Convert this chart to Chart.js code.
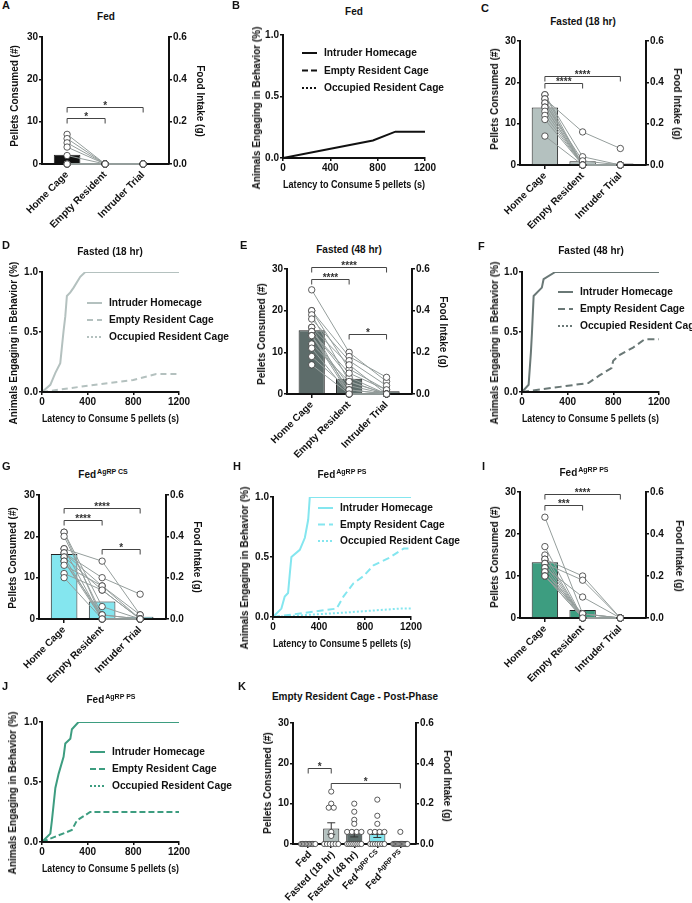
<!DOCTYPE html>
<html lang="en">
<head>
<meta charset="utf-8">
<title>Resident intruder feeding</title>
<script src="https://cdn.jsdelivr.net/npm/chart.js@4.4.1/dist/chart.umd.min.js"></script>
<style>
  html, body { margin: 0; padding: 0; background: #fff; }
  #fig { position: relative; width: 692px; height: 903px; overflow: hidden;
         font-family: 'Liberation Sans', Arial, Helvetica, sans-serif; color: #111; }
  #fig canvas { position: absolute; }
  .tag { position: absolute; font-size: 11px; font-weight: bold; line-height: 11px; }
  .head { position: absolute; font-size: 10px; font-weight: bold; line-height: 10px;
          white-space: nowrap; transform: translate(-50%, -50%); }
  .head sup { font-size: 7px; line-height: 0; vertical-align: 4px; margin-left: 1px; }
  .ytitle, .rtitle { position: absolute; font-size: 10px; font-weight: bold; line-height: 12px; white-space: nowrap; }
  .ytitle { transform: translate(-50%, -50%) rotate(-90deg); }
  .rtitle { transform: translate(-50%, -50%) rotate(90deg); }
</style>
</head>
<body>
<div id="fig"></div>
<script>
// pellets eaten per mouse; same index = same mouse in the three trials
const trialCats = ['Home Cage', 'Empty Resident', 'Intruder Trial'];

const fedHome     = [7, 6, 5, 4, 2, 0, 0, 0, 0, 0, 0];
const fedEmpty    = [0, 0, 0, 0, 0, 0, 0, 0, 0, 0, 0];
const fedIntruder = [0, 0, 0, 0, 0, 0, 0, 0, 0, 0, 0];

const f18Home     = [17, 17, 16, 16, 15, 15, 14, 14, 13, 12, 11, 7];
const f18Empty    = [2, 0, 8, 0, 0, 1, 0, 0, 0, 0, 0, 0];
const f18Intruder = [0, 0, 4, 0, 0, 0, 0, 0, 0, 0, 0, 0];

const f48Home     = [25, 20, 20, 19, 18, 16, 16, 15, 15, 14, 14, 14, 12, 11, 9, 7];
const f48Empty    = [10, 6, 9, 3, 8, 0, 7, 4, 5, 2, 0, 1, 3, 0, 1, 0];
const f48Intruder = [3, 1, 4, 0, 2, 0, 0, 0, 1, 0, 0, 0, 0, 0, 0, 0];

const csHome      = [21, 21, 20, 17, 17, 16, 16, 15, 15, 14, 14, 13, 11, 10];
const csEmpty     = [0, 3, 1, 14, 0, 8, 10, 0, 7, 1, 0, 8, 7, 0];
const csIntruder  = [0, 0, 0, 1, 0, 1, 6, 0, 0, 0, 0, 0, 0, 0];

const psHome      = [24, 17, 15, 14, 14, 13, 13, 12, 12, 11, 11, 10, 10, 10];
const psEmpty     = [1, 0, 0, 10, 0, 9, 0, 5, 0, 1, 0, 0, 1, 0];
const psIntruder  = [0, 0, 0, 0, 0, 0, 0, 0, 0, 0, 0, 0, 0, 0];

// significance brackets: [from, to, height in pellets, label]
const fedStars  = [[0, 1, 10.9, '*'], [0, 2, 13.5, '*']];
const f18Stars  = [[0, 1, 19.8, '****'], [0, 2, 21.6, '****']];
const f48Stars  = [[0, 1, 27.7, '****'], [0, 2, 30.5, '****'], [1, 2, 14.5, '*']];
const csStars   = [[0, 1, 24.0, '****'], [0, 2, 26.8, '****'], [1, 2, 16.9, '*']];
const psStars   = [[0, 1, 26.9, '***'], [0, 2, 29.5, '****']];

// latency curves: [seconds, fraction of animals]
const curveNames = ['Intruder Homecage', 'Empty Resident Cage', 'Occupied Resident Cage'];

const fedHomecage = [[0, 0], [380, 0.071], [760, 0.143], [950, 0.214], [1200, 0.214]];
const fedEmptyRes = [[0, 0], [1200, 0]];
const fedOccupied = [[0, 0], [1200, 0]];

const f18Homecage = [[0, 0], [73, 0.06], [117, 0.16], [160, 0.24], [175, 0.38], [189, 0.51], [204, 0.63],
                     [218, 0.8], [248, 0.83], [277, 0.87], [335, 0.96], [379, 1], [1200, 1]];
const f18EmptyRes = [[0, 0], [500, 0.065], [800, 0.1], [1000, 0.15], [1200, 0.15]];
const f18Occupied = [[0, 0], [1200, 0]];

const f48Homecage = [[0, 0], [58, 0.06], [78, 0.33], [87, 0.49], [102, 0.8], [174, 0.87], [189, 0.94],
                     [291, 1], [1200, 1]];
const f48EmptyRes = [[0, 0], [581, 0.075], [682, 0.14], [784, 0.2], [799, 0.26], [857, 0.31], [973, 0.37],
                     [1075, 0.44], [1200, 0.44]];
const f48Occupied = [[0, 0], [1200, 0]];

const hHomecage = [[0, 0], [73, 0.07], [102, 0.17], [131, 0.2], [146, 0.36], [160, 0.5], [233, 0.56],
                   [277, 0.66], [306, 0.81], [320, 1], [1200, 1]];
const hEmptyRes = [[0, 0], [553, 0.07], [612, 0.17], [699, 0.28], [786, 0.34], [874, 0.43], [1005, 0.49],
                   [1136, 0.57], [1200, 0.57]];
const hOccupied = [[0, 0], [600, 0.035], [1100, 0.07], [1200, 0.07]];

const jHomecage = [[0, 0], [73, 0.07], [87, 0.18], [117, 0.45], [146, 0.57], [189, 0.71], [204, 0.82],
                   [248, 0.86], [262, 0.94], [320, 1], [1200, 1]];
const jEmptyRes = [[0, 0], [262, 0.1], [306, 0.18], [422, 0.25], [1200, 0.25]];
const jOccupied = [[0, 0], [1200, 0]];

// panel K: empty resident cage, post phase
const postCats = ['Fed', 'Fasted (18 hr)', 'Fasted (48 hr)', 'Fed', 'Fed'];
const postSups = ['', '', '', 'AgRP CS', 'AgRP PS'];
const postFed  = [0, 0, 0, 0, 0, 0, 0, 0, 0, 0, 0];
const postF18  = [13, 10, 9, 9, 3, 2, 0, 0, 0, 0, 0, 0];
const postF48  = [10, 8, 6, 5, 3, 3, 3, 3, 0, 0, 0, 0, 0, 0, 0, 0];
const postCs   = [11, 7, 5, 3, 3, 3, 3, 0, 0, 0, 0, 0, 0, 0];
const postPs   = [3, 0, 0, 0, 0, 0, 0, 0, 0, 0, 0, 0, 0, 0];
const postStars = [[0, 1, 18.8, '*'], [1, 4, 15.2, '*']];

const colFed = '#111111', colF18 = '#b4c1bf', colF48 = '#5d6c6a', colCs = '#84e6ef', colPs = '#3d9d80';
const FONT = "'Liberation Sans', Arial, Helvetica, sans-serif";

Chart.defaults.font.family = FONT;
Chart.defaults.font.size = 10;
Chart.defaults.font.weight = 'bold';
Chart.defaults.color = '#111';

const fig = document.getElementById('fig');

const mean = g => g.reduce((a, b) => a + b, 0) / g.length;
const sem = g => {
    const m = mean(g);
    const v = g.reduce((a, b) => a + (b - m) ** 2, 0) / (g.length - 1);
    return Math.sqrt(v / g.length);
};

// spread equal values sideways like a scatter dot plot
function spread(g) {
    const count = {}, used = {};
    g.forEach(v => { count[v] = (count[v] || 0) + 1; });
    return g.map(v => {
        const c = count[v];
        const k = used[v] = (used[v] || 0) + 1;
        const step = c > 1 ? Math.min(0.22, 0.62 / (c - 1)) : 0;
        return (k - 1 - (c - 1) / 2) * step;
    });
}

function addText(cls, html, x, y) {
    const d = document.createElement('div');
    d.className = cls;
    d.innerHTML = html;
    d.style.left = x + 'px';
    d.style.top = y + 'px';
    fig.appendChild(d);
}

function addCanvas(box) {
    const c = document.createElement('canvas');
    c.width = box[2];
    c.height = box[3];
    c.style.left = box[0] + 'px';
    c.style.top = box[1] + 'px';
    c.style.width = box[2] + 'px';
    c.style.height = box[3] + 'px';
    fig.appendChild(c);
    return c;
}

// canvas box + axis sizes so the plot area lands on `area` = [left, top, right, bottom]
function frame(area, yTitleX, rTitleX, xTitleY) {
    const [L, T, R, B] = area;
    const left = yTitleX - 8, top = T - 12;
    const right = rTitleX ? rTitleX + 8 : Math.min(R + 75, 692);
    const bottom = xTitleY ? xTitleY + 8 : B + 92;
    return {
        box: [left, top, right - left, bottom - top],
        padding: { left: 2, top: 12, right: rTitleX ? 2 : right - R, bottom: 2 },
        leftW: L - left - 2,
        rightW: rTitleX ? rTitleX + 6 - R : 0,
        bottomH: bottom - 2 - B
    };
}

function axisTitle(text) {
    return { display: true, text, padding: 0, color: '#111', font: { size: 10, weight: 'bold' } };
}
function grid(len) {
    return { drawOnChartArea: false, drawTicks: true, tickLength: len, color: '#111', lineWidth: 1.5, offset: false };
}
function border(z) {
    return { display: true, color: '#111', width: 2, z: z };
}

// brackets, stars and error bars
const marks = {
    id: 'marks',
    afterDatasetDraw(chart, args, opts) {
        if (!opts.errors || args.meta.type !== 'bar') return;
        const { ctx } = chart;
        const xs = chart.scales.x, ys = chart.scales.y;
        ctx.save();
        ctx.strokeStyle = '#333';
        ctx.lineWidth = 1;
        opts.errors.forEach(([i, m, e]) => {
            if (!e) return;
            const x = xs.getPixelForValue(i);
            const lo = ys.getPixelForValue(m - e), hi = ys.getPixelForValue(m + e);
            ctx.beginPath();
            ctx.moveTo(x, lo); ctx.lineTo(x, hi);
            ctx.moveTo(x - 4, hi); ctx.lineTo(x + 4, hi);
            ctx.moveTo(x - 4, lo); ctx.lineTo(x + 4, lo);
            ctx.stroke();
        });
        ctx.restore();
    },
    afterDraw(chart, args, opts) {
        if (!opts.brackets) return;
        const { ctx } = chart;
        const xs = chart.scales.x, ys = chart.scales.y;
        ctx.save();
        opts.brackets.forEach(([a, b, level, label]) => {
            const x1 = xs.getPixelForValue(a), x2 = xs.getPixelForValue(b);
            const y = Math.round(ys.getPixelForValue(level)) + 0.5;
            ctx.strokeStyle = '#444';
            ctx.lineWidth = 1;
            ctx.beginPath();
            ctx.moveTo(x1, y + 5); ctx.lineTo(x1, y); ctx.lineTo(x2, y); ctx.lineTo(x2, y + 5);
            ctx.stroke();
            ctx.fillStyle = '#333';
            ctx.font = 'bold 10px ' + FONT;
            ctx.textAlign = 'center';
            ctx.textBaseline = 'alphabetic';
            ctx.fillText(label, (x1 + x2) / 2, y + 1.5);
        });
        ctx.restore();
    }
};

// rotated category labels with superscripts (panel K)
const catText = {
    id: 'catText',
    afterDraw(chart, args, opts) {
        if (!opts.labels) return;
        const { ctx } = chart;
        const xs = chart.scales.x, base = chart.chartArea.bottom;
        opts.labels.forEach((txt, i) => {
            const sup = opts.sups[i];
            const x = xs.getPixelForValue(i);
            ctx.save();
            ctx.translate(x + 2, base + 9);
            ctx.rotate(-Math.PI / 4);
            ctx.fillStyle = '#111';
            ctx.textBaseline = 'middle';
            ctx.textAlign = 'left';
            ctx.font = 'bold 10px ' + FONT;
            const w1 = ctx.measureText(txt).width;
            ctx.font = 'bold 7px ' + FONT;
            const w2 = sup ? ctx.measureText(sup).width + 1 : 0;
            ctx.font = 'bold 10px ' + FONT;
            ctx.fillText(txt, -(w1 + w2), 0);
            if (sup) {
                ctx.font = 'bold 7px ' + FONT;
                ctx.fillText(sup, -w2 + 1, -3.5);
            }
            ctx.restore();
        });
    }
};

// legend inside the plot with line samples
const lineKey = {
    id: 'lineKey',
    afterDraw(chart, args, o) {
        if (o.x === undefined) return;
        const { ctx, chartArea } = chart;
        chart.data.datasets.forEach((ds, i) => {
            const x = chartArea.left + o.x, y = chartArea.top + o.y + i * o.gap;
            ctx.save();
            ctx.strokeStyle = ds.borderColor;
            ctx.lineWidth = 2;
            ctx.setLineDash(ds.borderDash);
            ctx.beginPath();
            ctx.moveTo(x, y); ctx.lineTo(x + 15, y);
            ctx.stroke();
            ctx.setLineDash([]);
            ctx.fillStyle = '#111';
            ctx.font = 'bold 10.2px ' + FONT;
            ctx.textBaseline = 'middle';
            ctx.fillText(ds.label, x + 22, y + 0.5);
            ctx.restore();
        });
    }
};

Chart.register(marks, catText, lineKey);

function barPanel(p) {
    addText('tag', p.tag, p.tagAt[0], p.tagAt[1]);
    addText('head', p.title, p.titleAt[0], p.titleAt[1]);
    const f = frame(p.area, p.yTitleAt[0], p.rTitleAt[0], null);
    const n = p.groups.length;
    const means = p.groups.map(mean);
    const datasets = [];
    if (p.paired) {
        p.groups[0].forEach((_, k) => datasets.push({
            type: 'line',
            data: p.groups.map((g, i) => ({ x: i, y: g[k] })),
            borderColor: '#959e9c', borderWidth: 1, pointRadius: 0, order: 5, clip: false
        }));
    }
    const dots = [];
    p.groups.forEach((g, i) => {
        const off = p.paired ? g.map(() => 0) : spread(g);
        g.forEach((v, k) => dots.push({ x: i + off[k], y: v }));
    });
    datasets.push({
        type: 'line', data: dots, showLine: false,
        pointRadius: p.dot, pointBackgroundColor: '#fff', pointBorderColor: '#333', pointBorderWidth: 0.8,
        order: 1, clip: false
    });
    datasets.push({
        type: 'bar', data: means.map((m, i) => ({ x: i, y: m })),
        backgroundColor: p.colors, borderColor: '#222', borderWidth: 1,
        categoryPercentage: 1, barPercentage: 0.7, order: 10
    });

    new Chart(addCanvas(f.box), {
        type: 'bar',
        data: { datasets },
        options: {
            responsive: false, animation: false, events: [],
            layout: { padding: f.padding, autoPadding: false },
            plugins: {
                legend: { display: false }, tooltip: { enabled: false },
                marks: { brackets: p.stars, errors: p.errors ? p.groups.map((g, i) => [i, means[i], sem(g)]) : null },
                catText: p.sups ? { labels: p.cats, sups: p.sups } : {}
            },
            scales: {
                x: {
                    type: 'linear', offset: false, min: -0.66, max: n - 0.32,
                    afterBuildTicks: s => { s.ticks = p.cats.map((c, i) => ({ value: i })); },
                    afterFit: s => { s.height = f.bottomH; },
                    ticks: { display: !p.sups, autoSkip: false, minRotation: 45, maxRotation: 45, padding: 1,
                             callback: v => p.cats[v] },
                    grid: grid(4), border: border(0)
                },
                y: {
                    type: 'linear', position: 'left', min: 0, max: 30,
                    ticks: { stepSize: 10, padding: 1 },
                    afterFit: s => { s.width = f.leftW; },
                    grid: grid(3), border: border(0)
                },
                y2: {
                    type: 'linear', position: 'right', min: 0, max: 0.6,
                    ticks: { stepSize: 0.2, padding: 1, callback: v => v.toFixed(1) },
                    afterFit: s => { s.width = f.rightW; },
                    grid: grid(3), border: border(0)
                }
            }
        }
    });
    addText('ytitle', 'Pellets Consumed (#)', p.yTitleAt[0], p.yTitleAt[1]);
    addText('rtitle', 'Food Intake (g)', p.rTitleAt[0], p.rTitleAt[1]);
}

function linePanel(p) {
    addText('tag', p.tag, p.tagAt[0], p.tagAt[1]);
    addText('head', p.title, p.titleAt[0], p.titleAt[1]);
    const f = frame(p.area, p.yTitleAt[0], null, p.xTitleY);
    const dashes = [[], p.dash, [2, 2]];
    const datasets = p.curves.map((c, i) => ({
        label: curveNames[i],
        data: c.map(([x, y]) => ({ x, y })),
        borderColor: p.color, borderWidth: 2, borderDash: dashes[i],
        pointRadius: 0, tension: 0, fill: false
    }));

    new Chart(addCanvas(f.box), {
        type: 'line',
        data: { datasets },
        options: {
            responsive: false, animation: false, events: [],
            layout: { padding: f.padding, autoPadding: false },
            plugins: { legend: { display: false }, tooltip: { enabled: false }, lineKey: p.key },
            scales: {
                x: {
                    type: 'linear', min: 0, max: 1200,
                    ticks: { stepSize: 400, padding: 1, maxRotation: 0, callback: v => String(v) },
                    afterFit: s => { s.height = f.bottomH; },
                    title: axisTitle('Latency to Consume 5 pellets (s)'),
                    grid: grid(3), border: border(1)
                },
                y: {
                    type: 'linear', min: 0, max: 1,
                    ticks: { stepSize: 0.5, padding: 1, callback: v => v.toFixed(1) },
                    afterFit: s => { s.width = f.leftW; },
                    grid: grid(3), border: border(1)
                }
            }
        }
    });
    addText('ytitle', 'Animals Engaging in Behavior (%)', p.yTitleAt[0], p.yTitleAt[1]);
}

barPanel({
    tag: 'A', tagAt: [2, 0], title: 'Fed', titleAt: [106, 17],
    area: [42, 37, 169, 164], yTitleAt: [15, 96], rTitleAt: [200, 101],
    cats: trialCats, groups: [fedHome, fedEmpty, fedIntruder], paired: true, dot: 3.2,
    colors: [colFed, colFed, colFed], stars: fedStars
});
linePanel({
    tag: 'B', tagAt: [232, 0], title: 'Fed', titleAt: [354, 12],
    area: [283, 35, 425, 158], yTitleAt: [257, 108], xTitleY: 185,
    curves: [fedHomecage, fedEmptyRes, fedOccupied], color: colFed, dash: [6, 3],
    key: { x: 19, y: 18, gap: 17.5 }
});
barPanel({
    tag: 'C', tagAt: [481, 3], title: 'Fasted (18 hr)', titleAt: [583, 22],
    area: [520, 41, 646, 165], yTitleAt: [495, 99], rTitleAt: [677, 104],
    cats: trialCats, groups: [f18Home, f18Empty, f18Intruder], paired: true, dot: 3.2,
    colors: [colF18, colF18, colF18], stars: f18Stars
});
linePanel({
    tag: 'D', tagAt: [2, 240], title: 'Fasted (18 hr)', titleAt: [110, 252],
    area: [42, 272, 179, 392], yTitleAt: [14, 343], xTitleY: 419,
    curves: [f18Homecage, f18EmptyRes, f18Occupied], color: colF18, dash: [6, 4],
    key: { x: 45, y: 31, gap: 17 }
});
barPanel({
    tag: 'E', tagAt: [240, 240], title: 'Fasted (48 hr)', titleAt: [349, 250],
    area: [287, 269, 412, 394], yTitleAt: [262, 334], rTitleAt: [443, 332],
    cats: trialCats, groups: [f48Home, f48Empty, f48Intruder], paired: true, dot: 3.2,
    colors: [colF48, colF48, colF48], stars: f48Stars
});
linePanel({
    tag: 'F', tagAt: [478, 241], title: 'Fasted (48 hr)', titleAt: [591, 251],
    area: [522, 272, 659, 392], yTitleAt: [495, 343], xTitleY: 419,
    curves: [f48Homecage, f48EmptyRes, f48Occupied], color: '#6a7876', dash: [7, 4],
    key: { x: 36, y: 20, gap: 17 }
});
barPanel({
    tag: 'G', tagAt: [2, 461], title: 'Fed<sup>AgRP CS</sup>', titleAt: [103, 475],
    area: [39, 495, 166, 619], yTitleAt: [13, 558], rTitleAt: [197, 557],
    cats: trialCats, groups: [csHome, csEmpty, csIntruder], paired: true, dot: 3.2,
    colors: [colCs, colCs, colCs], stars: csStars
});
linePanel({
    tag: 'H', tagAt: [233, 461], title: 'Fed<sup>AgRP PS</sup>', titleAt: [342, 475],
    area: [273, 497, 411, 617], yTitleAt: [245, 568], xTitleY: 644,
    curves: [hHomecage, hEmptyRes, hOccupied], color: colCs, dash: [7, 4],
    key: { x: 45, y: 11, gap: 16.5 }
});
barPanel({
    tag: 'I', tagAt: [482, 461], title: 'Fed<sup>AgRP PS</sup>', titleAt: [584, 473],
    area: [520, 492, 646, 618], yTitleAt: [495, 557], rTitleAt: [679, 556],
    cats: trialCats, groups: [psHome, psEmpty, psIntruder], paired: true, dot: 3.2,
    colors: [colPs, colPs, colPs], stars: psStars
});
linePanel({
    tag: 'J', tagAt: [2, 681], title: 'Fed<sup>AgRP PS</sup>', titleAt: [111, 700],
    area: [42, 722, 179, 842], yTitleAt: [13, 793], xTitleY: 869,
    curves: [jHomecage, jEmptyRes, jOccupied], color: colPs, dash: [6, 3],
    key: { x: 48, y: 30, gap: 17 }
});
barPanel({
    tag: 'K', tagAt: [238, 681], title: 'Empty Resident Cage - Post-Phase', titleAt: [355, 697],
    area: [293, 723, 416, 844], yTitleAt: [268, 783], rTitleAt: [447, 786],
    cats: postCats, sups: postSups, groups: [postFed, postF18, postF48, postCs, postPs],
    paired: false, dot: 2.6, errors: true,
    colors: [colFed, colF18, colF48, colCs, colPs], stars: postStars
});
</script>
</body>
</html>
